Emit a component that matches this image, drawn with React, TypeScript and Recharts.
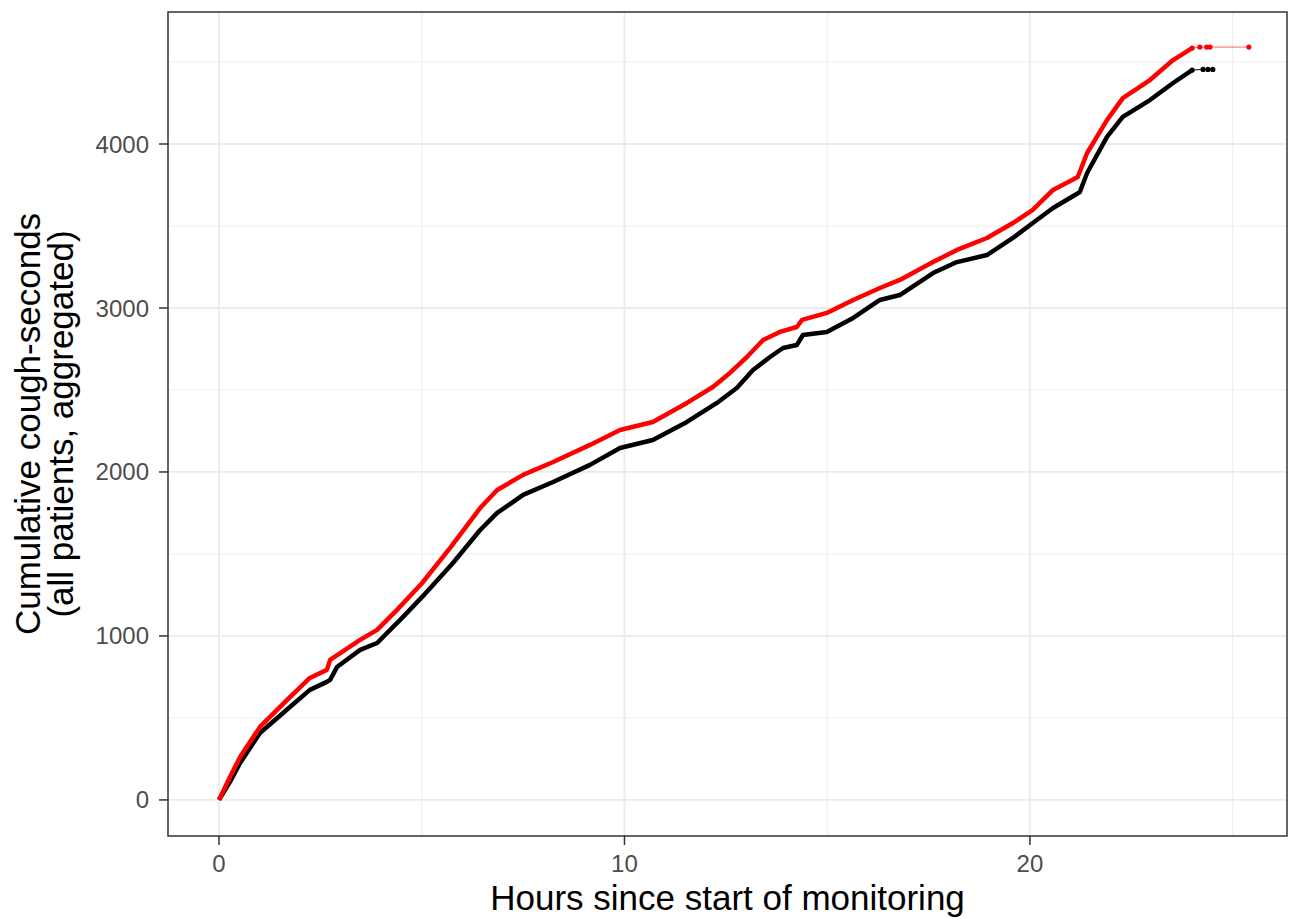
import React from 'react';
import {
  LineChart,
  Line,
  XAxis,
  YAxis,
  CartesianGrid,
  ReferenceArea
} from 'recharts';

// red series: hours / cumulative cough-seconds
const redHours = [0, 0.27, 0.52, 1.01, 1.68, 2.24, 2.66, 2.74, 3.48, 3.9, 4.39, 5.01, 5.7, 6.44, 6.86, 7.5, 8.24, 9.15, 9.89, 10.7, 11.54, 12.18, 12.6, 13.02, 13.42, 13.83, 14.25, 14.38, 14.99, 15.64, 16.3, 16.79, 17.61, 18.2, 18.94, 19.58, 20.07, 20.57, 21.18, 21.41, 21.9, 22.29, 22.96, 23.53, 24.0];
const redValues = [0, 140, 262, 445, 610, 744, 793, 854, 976, 1037, 1159, 1323, 1537, 1780, 1890, 1982, 2061, 2165, 2256, 2305, 2421, 2518, 2604, 2701, 2805, 2854, 2884, 2927, 2970, 3049, 3122, 3171, 3280, 3354, 3427, 3518, 3598, 3720, 3799, 3945, 4146, 4280, 4390, 4512, 4585];
const redTailHours = [24.0, 24.19, 24.36, 24.44, 25.4];
const redTailValues = [4585, 4591, 4591, 4591, 4591];

// black series
const blackHours = [0, 0.27, 0.52, 1.01, 1.75, 2.24, 2.66, 2.74, 2.91, 3.48, 3.9, 4.54, 5.01, 5.77, 6.44, 6.86, 7.5, 8.24, 9.15, 9.89, 10.7, 11.54, 12.28, 12.77, 13.17, 13.59, 13.91, 14.25, 14.4, 14.99, 15.64, 16.3, 16.79, 17.61, 18.2, 18.94, 19.58, 20.07, 20.57, 21.11, 21.23, 21.41, 21.9, 22.29, 22.96, 23.53, 24.0];
const blackValues = [0, 110, 225, 408, 567, 671, 720, 732, 811, 915, 957, 1116, 1238, 1445, 1646, 1750, 1860, 1939, 2043, 2146, 2195, 2305, 2421, 2512, 2622, 2701, 2756, 2774, 2835, 2854, 2939, 3049, 3079, 3213, 3280, 3323, 3427, 3518, 3610, 3689, 3707, 3823, 4043, 4165, 4268, 4372, 4451];
const blackTailHours = [24.0, 24.27, 24.39, 24.51];
const blackTailValues = [4451, 4455, 4455, 4455];

const xTicks = [0, 10, 20];
const yTicks = [0, 1000, 2000, 3000, 4000];
const xMinor = [5, 15, 25];
const yMinor = [500, 1500, 2500, 3500, 4500];

const X_DOMAIN: [number, number] = [-1.258, 26.34];
const Y_DOMAIN: [number, number] = [-220, 4805];

const zip = (hs: number[], vs: number[]) => hs.map((h, i) => ({ h, v: vs[i] }));

const redData = zip(redHours, redValues);
const redTail = zip(redTailHours, redTailValues);
const blackData = zip(blackHours, blackValues);
const blackTail = zip(blackTailHours, blackTailValues);

const FONT = '"Liberation Sans", Arial, sans-serif';

const tickStyle = { fill: '#4d4d4d', fontSize: 24, fontFamily: FONT };

const YTitle = ({ viewBox }: any) => {
  const cy = viewBox.y + viewBox.height / 2;
  return (
    <g transform={`translate(0, ${cy}) rotate(-90)`}>
      <text textAnchor="middle" fontSize={35} fontFamily={FONT} fill="#000">
        <tspan x={0} y={40}>Cumulative cough-seconds</tspan>
        <tspan x={0} y={73}>(all patients, aggregated)</tspan>
      </text>
    </g>
  );
};

const XTitle = ({ viewBox }: any) => (
  <text
    x={viewBox.x + viewBox.width / 2}
    y={viewBox.y + 74}
    textAnchor="middle"
    fontSize={35}
    fontFamily={FONT}
    fill="#000"
  >
    Hours since start of monitoring
  </text>
);

export default function App() {
  return (
    <div style={{ position: 'absolute', left: 0, top: 0, background: '#fff' }}>
      <LineChart width={1303} height={919} margin={{ top: 12, right: 16, bottom: 0, left: 0 }}>
        <CartesianGrid
          stroke="#ebebeb"
          strokeWidth={1}
          horizontalValues={yMinor}
          verticalValues={xMinor}
        />
        <CartesianGrid
          stroke="#ebebeb"
          strokeWidth={1.8}
          horizontalValues={yTicks}
          verticalValues={xTicks}
        />
        <XAxis
          dataKey="h"
          type="number"
          domain={X_DOMAIN}
          ticks={xTicks}
          allowDataOverflow
          height={83}
          tick={tickStyle}
          tickSize={9}
          tickMargin={10}
          tickLine={{ stroke: '#333333', strokeWidth: 1.5 }}
          axisLine={false}
          label={<XTitle />}
        />
        <YAxis
          type="number"
          domain={Y_DOMAIN}
          ticks={yTicks}
          allowDataOverflow
          width={168}
          tick={tickStyle}
          tickSize={9}
          tickMargin={10}
          tickLine={{ stroke: '#333333', strokeWidth: 1.5 }}
          axisLine={false}
          label={<YTitle />}
        />
        <Line
          data={blackData}
          dataKey="v"
          type="linear"
          stroke="#000000"
          strokeWidth={4.5}
          strokeLinejoin="round"
          dot={false}
          isAnimationActive={false}
        />
        <Line
          data={blackTail}
          dataKey="v"
          type="linear"
          stroke="#000000"
          strokeWidth={1}
          dot={{ r: 2.6, fill: '#000000', stroke: 'none' }}
          isAnimationActive={false}
        />
        <Line
          data={redData}
          dataKey="v"
          type="linear"
          stroke="#ff0000"
          strokeWidth={4.5}
          strokeLinejoin="round"
          dot={false}
          isAnimationActive={false}
        />
        <Line
          data={redTail}
          dataKey="v"
          type="linear"
          stroke="#ff0000"
          strokeOpacity={0.6}
          strokeWidth={1}
          dot={{ r: 2.6, fill: '#ff0000', stroke: 'none' }}
          isAnimationActive={false}
        />
        <ReferenceArea
          x1={X_DOMAIN[0]}
          x2={X_DOMAIN[1]}
          y1={Y_DOMAIN[0]}
          y2={Y_DOMAIN[1]}
          fill="none"
          stroke="#333333"
          strokeWidth={1.5}
          ifOverflow="visible"
        />
      </LineChart>
    </div>
  );
}
